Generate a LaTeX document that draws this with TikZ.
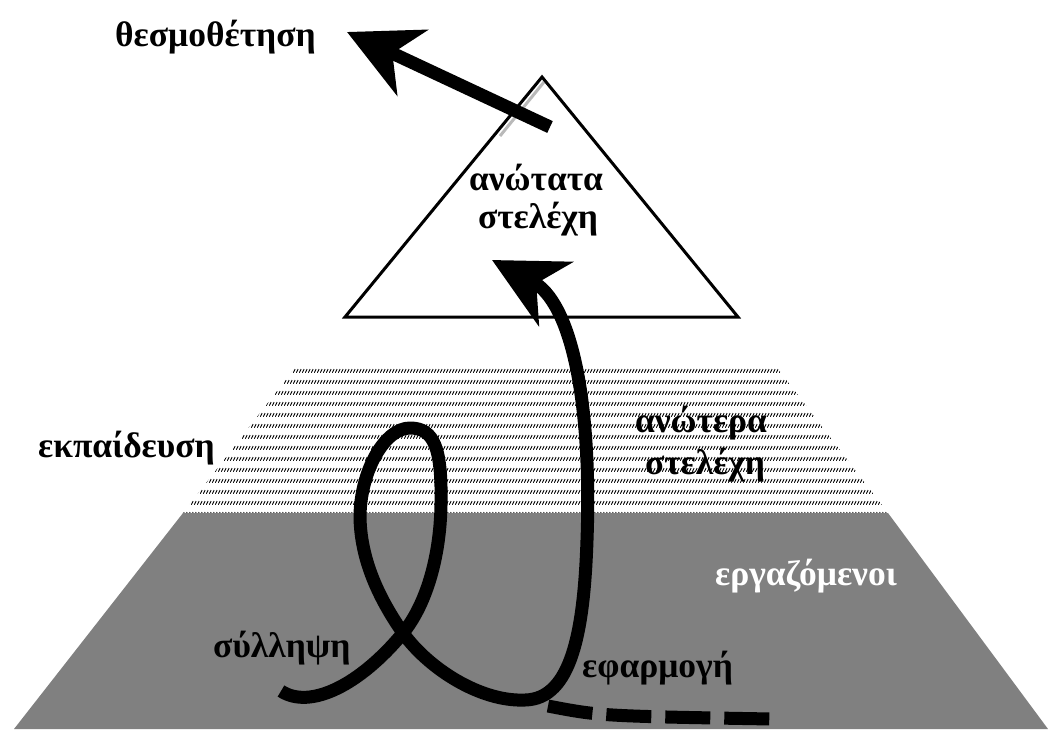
\documentclass[tikz,border=0pt]{standalone}
\usepackage{fontspec}
\setmainfont{Liberation Serif}
\usetikzlibrary{arrows.meta,patterns}
\pgfdeclarepatternformonly{rowhatch}{\pgfpoint{0pt}{0pt}}{\pgfpoint{3.25pt}{10.7pt}}{\pgfpoint{3.25pt}{10.7pt}}{%
  \pgfsetlinewidth{1pt}%
  \pgfpathmoveto{\pgfpoint{0.3pt}{0.2pt}}%
  \pgfpathlineto{\pgfpoint{2.6pt}{4.0pt}}%
  \pgfusepath{stroke}}
\definecolor{midgray}{HTML}{808080}
\tikzset{
  lbl/.style={font=\fontsize{35.5}{40}\selectfont\bfseries, inner sep=0pt},
  bigtip/.style={-{Stealth[length=72pt,width=72pt,inset=22pt]}},
  thick13/.style={line width=13pt, line cap=butt, line join=round},
}
\begin{document}
\begin{tikzpicture}[x=1pt,y=-1pt]
\useasboundingbox (0,0) rectangle (1048,729);
% layers
\fill[pattern=rowhatch] (297,365) -- (775,365) -- (888,513) -- (183,513) -- cycle;
\fill[midgray] (183,513) -- (888,513) -- (1048,729) -- (14,729) -- cycle;
% triangle
\draw[gray!55, line width=3pt] (544,82) -- (500,136);
\draw[line width=3pt, line join=miter] (542,77) -- (738,317) -- (345,317) -- cycle;
% labels
\node[lbl, anchor=base west] (top) at (115,46) {θεσμοθέτηση};
\node[lbl, anchor=base] (ceo1) at (536,190) {ανώτατα};
\node[lbl, anchor=base] (ceo2) at (538,228) {στελέχη};
\node[lbl, anchor=base east] (edu) at (215,457) {εκπαίδευση};
\node[lbl, anchor=base] (mid1) at (701,432) {ανώτερα};
\node[lbl, anchor=base] (mid2) at (705,474) {στελέχη};
\node[lbl, anchor=base east, text=white] (work) at (897,585) {εργαζόμενοι};
\node[lbl, anchor=base west] (idea) at (213,657) {σύλληψη};
\node[lbl, anchor=base west] (appl) at (582,677) {εφαρμογή};
% coordinates of the paths
\coordinate (cs) at (281,691);
\coordinate (cx) at (403,633);
\coordinate (cr) at (441,505);
\coordinate (ct) at (410,428);
\coordinate (cl) at (360,515);
\coordinate (cb) at (525,700);
\coordinate (cu) at (587,540);
\coordinate (ce) at (492,260);
\coordinate (ls) at (550,127);
\coordinate (le) at (347,32);
\coordinate (ds) at (548,706);
\coordinate (de) at (772,719);
% curly path
\draw[thick13, bigtip] (cs) .. controls (310,710) and (360,685) .. (cx)
  .. controls (425,606) and (440,560) .. (cr)
  .. controls (442,450) and (435,428) .. (ct)
  .. controls (385,428) and (361,470) .. (cl)
  .. controls (360,560) and (380,600) .. (cx)
  .. controls (428,668) and (480,702) .. (cb)
  .. controls (572,699) and (584,630) .. (cu)
  .. controls (592,400) and (571,302) .. (ce);
% dashed continuation
\draw[line width=13pt, line cap=butt, dash pattern=on 45pt off 14pt] (ds) .. controls (600,716) .. (de);
% top arrow
\draw[thick13, bigtip] (ls) -- (le);
\end{tikzpicture}
\end{document}
